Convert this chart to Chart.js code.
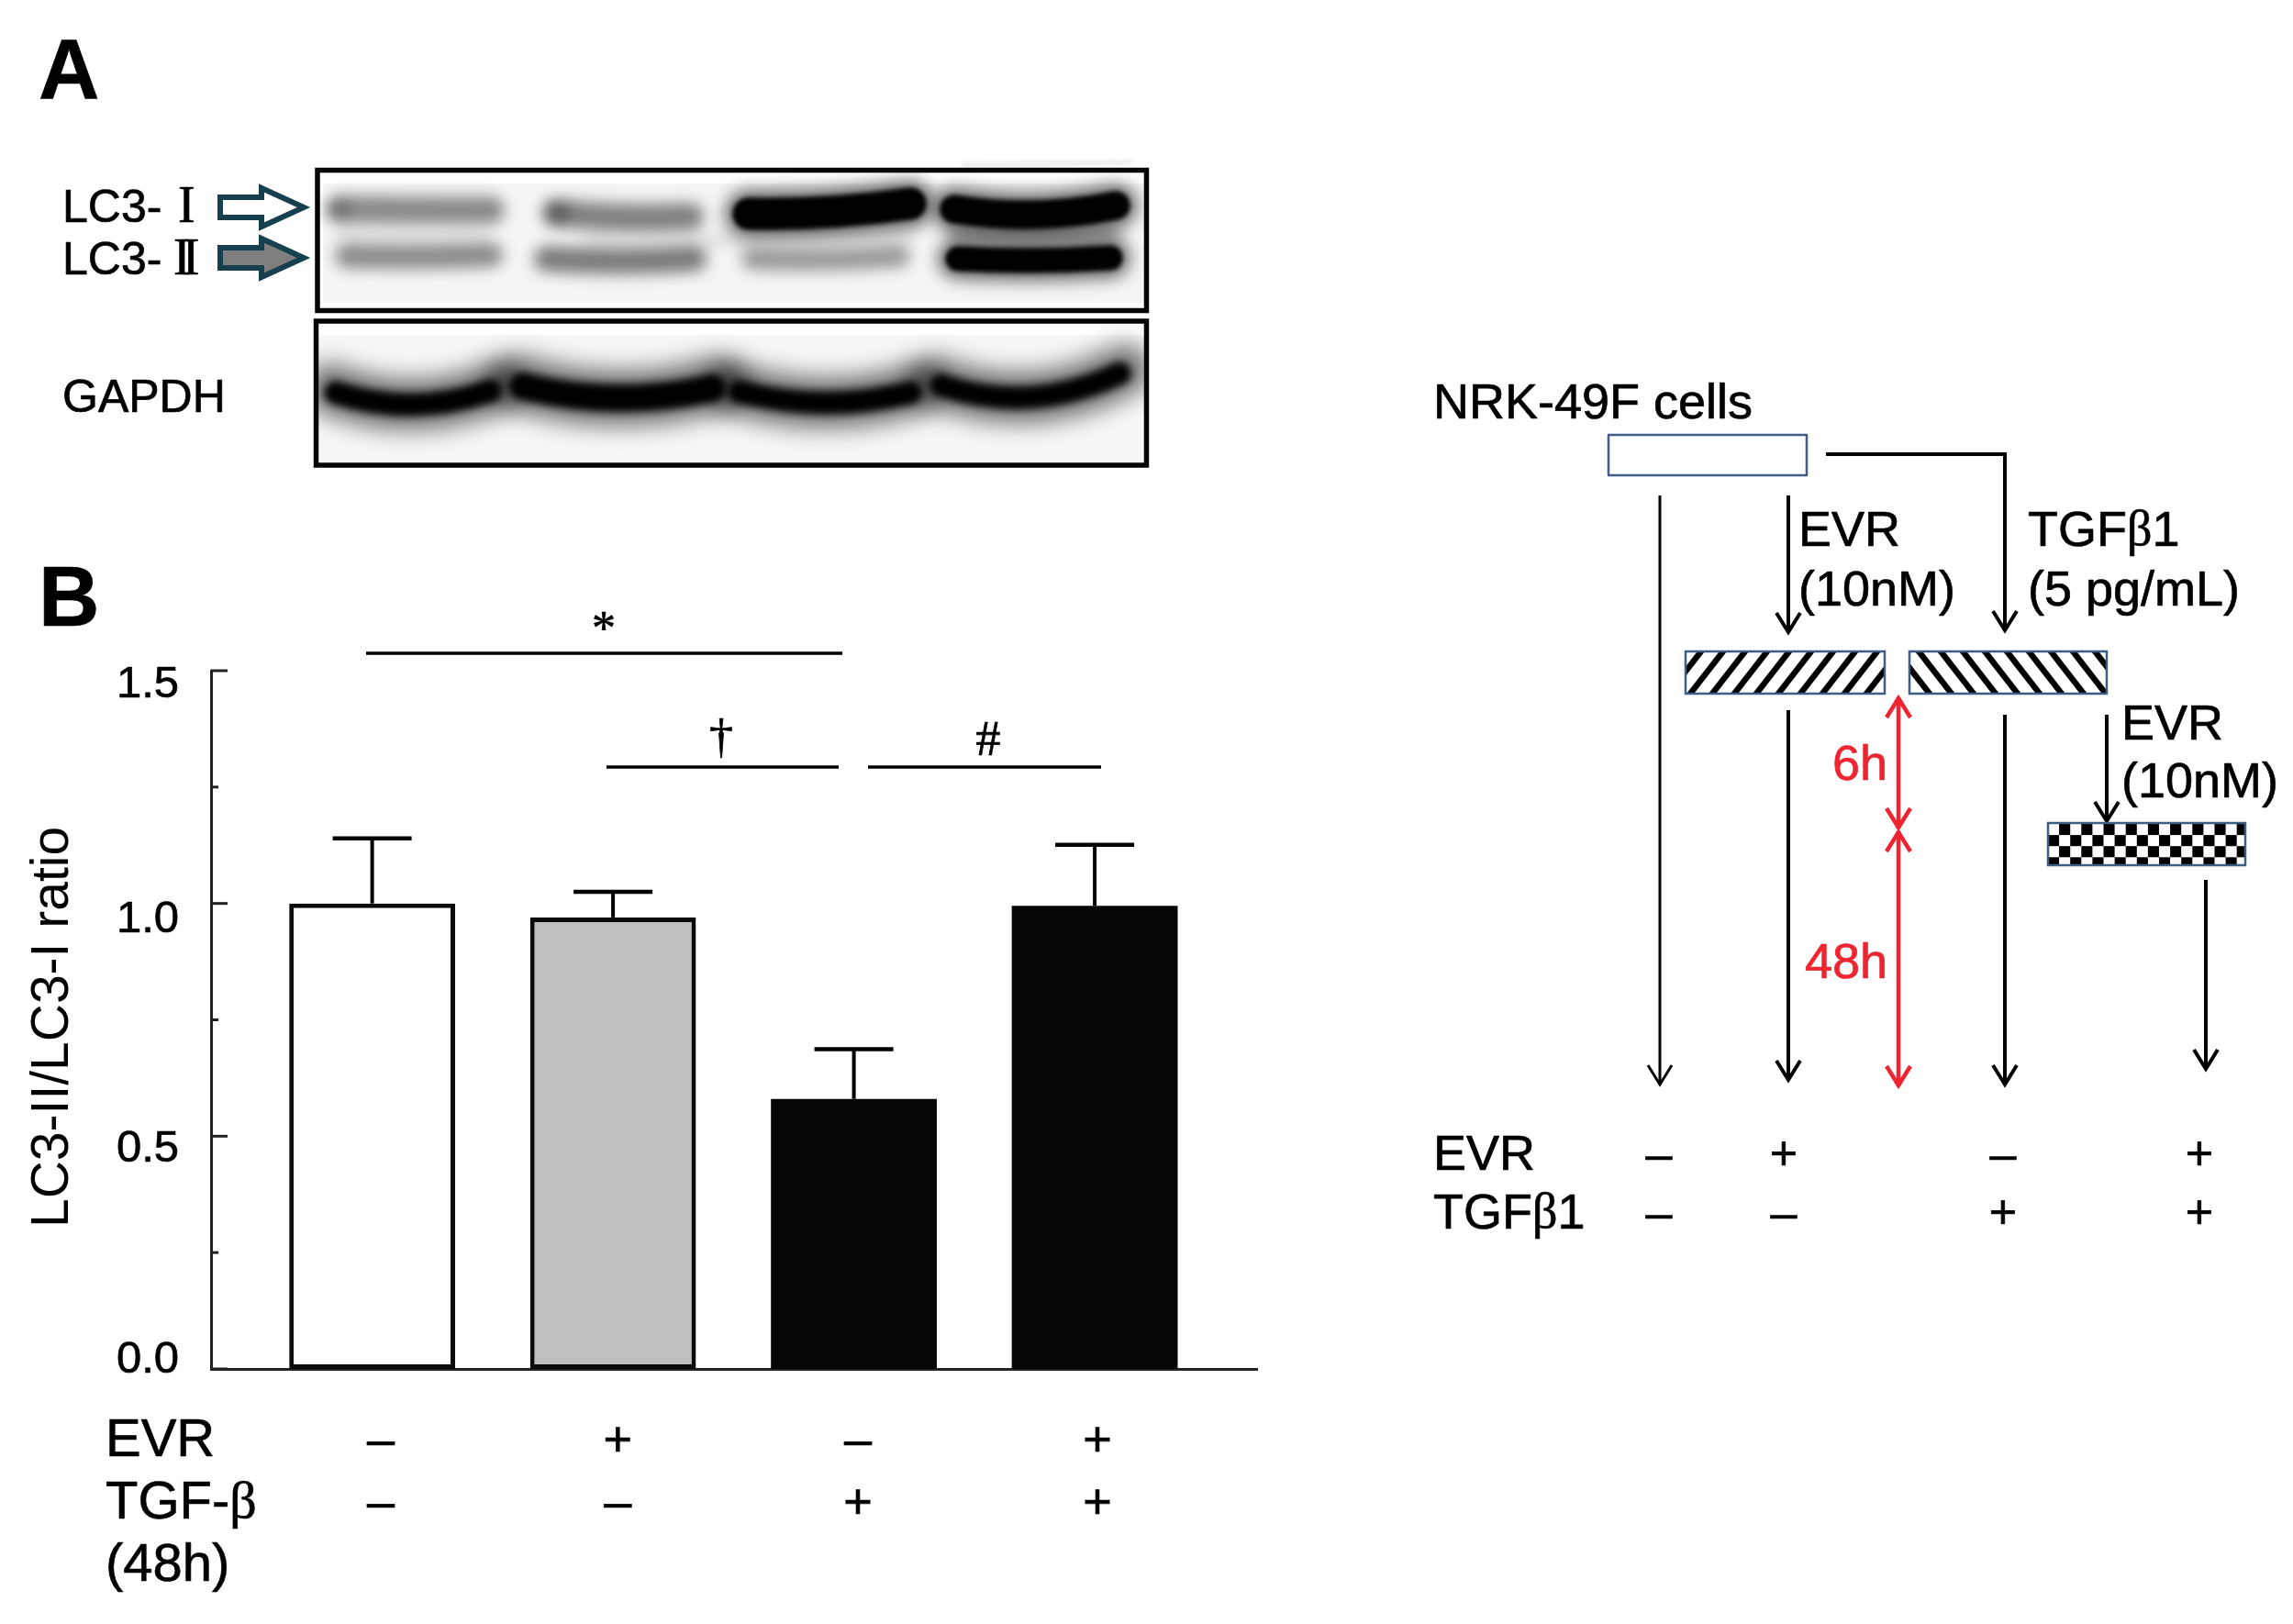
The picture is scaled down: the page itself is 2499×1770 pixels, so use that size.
<!DOCTYPE html>
<html>
<head>
<meta charset="utf-8">
<title>LC3-II/LC3-I ratio</title>
<script src="https://cdn.jsdelivr.net/npm/chart.js@4"></script>
<style>
  html, body { margin: 0; padding: 0; background: #fff; }
  canvas { display: block; }
</style>
</head>
<body>
<canvas id="ratioChart" width="2499" height="1770"></canvas>
<script>
const categories = ['Control', 'EVR', 'TGF-β', 'EVR + TGF-β'];
const ratioValues = [1.0, 0.97, 0.58, 0.995];
const errorTops = [1.14, 1.025, 0.687, 1.126];
const evrRow = ['–', '+', '–', '+'];
const tgfRow = ['–', '–', '+', '+'];
const yTickLabels = ['0.0', '0.5', '1.0', '1.5'];
const rowNames = ['EVR', 'TGF-', '(48h)'];

// the labels in the figure sit a little off their ticks and bars
const yLabelSpots = [0.018, 0.473, 0.965, 1.47];
const symbolColumns = [1.036, 2.02, 3.017, 4.011];

const sans = '"Liberation Sans", Arial, sans-serif';
const serif = '"Liberation Serif", serif';

function text(ctx, str, x, y, size, opts = {}) {
    ctx.font = `${opts.weight || 'normal'} ${size}px ${opts.family || sans}`;
    ctx.fillStyle = opts.color || '#000';
    ctx.textAlign = opts.align || 'left';
    ctx.textBaseline = 'middle';
    ctx.fillText(str, x, y + 6);
    // the source is a soft scan, letters look a bit heavier than a clean fill
    ctx.strokeStyle = ctx.fillStyle;
    ctx.lineWidth = 0.7;
    ctx.lineJoin = 'round';
    ctx.strokeText(str, x, y + 6);
}

function line(ctx, pts, width = 4, color = '#000') {
    ctx.strokeStyle = color;
    ctx.lineWidth = width;
    ctx.lineCap = 'butt';
    ctx.lineJoin = 'miter';
    ctx.beginPath();
    pts.forEach((p, i) => i ? ctx.lineTo(p[0], p[1]) : ctx.moveTo(p[0], p[1]));
    ctx.stroke();
}

// arrow pointing down with an open head
function downArrow(ctx, x, y0, y1, width = 4, color = '#000') {
    line(ctx, [[x, y0], [x, y1]], width, color);
    line(ctx, [[x - 13, y1 - 21], [x, y1], [x + 13, y1 - 21]], width, color);
}

function doubleArrow(ctx, x, y0, y1) {
    const red = '#ee2530';
    line(ctx, [[x, y0], [x, y1]], 4.5, red);
    line(ctx, [[x - 13, y0 + 22], [x, y0 + 1], [x + 13, y0 + 22]], 4.5, red);
    line(ctx, [[x - 13, y1 - 22], [x, y1 - 1], [x + 13, y1 - 22]], 4.5, red);
}

function sideArrow(ctx, y, fill) {
    ctx.beginPath();
    ctx.moveTo(240, y - 11);
    ctx.lineTo(285, y - 11);
    ctx.lineTo(285, y - 21);
    ctx.lineTo(331, y);
    ctx.lineTo(285, y + 21);
    ctx.lineTo(285, y + 11);
    ctx.lineTo(240, y + 11);
    ctx.closePath();
    ctx.fillStyle = fill;
    ctx.fill();
    ctx.strokeStyle = '#17404f';
    ctx.lineWidth = 6;
    ctx.lineJoin = 'miter';
    ctx.stroke();
}

// one smeared blot band: x0, x1, left y, middle y, right y, thickness, darkness
function band(ctx, b, blur) {
    ctx.save();
    ctx.filter = `blur(${blur}px)`;
    ctx.strokeStyle = `rgba(0,0,0,${b[6]})`;
    ctx.lineWidth = b[5];
    ctx.lineCap = 'round';
    ctx.beginPath();
    ctx.moveTo(b[0], b[2]);
    ctx.quadraticCurveTo((b[0] + b[1]) / 2, 2 * b[3] - (b[2] + b[4]) / 2, b[1], b[4]);
    ctx.stroke();
    ctx.restore();
}

function blackBand(ctx, b, haloBlur = 9) {
    band(ctx, [b[0], b[1], b[2], b[3], b[4], b[5] + 16, 0.6], haloBlur);
    band(ctx, b, 2.5);
}

function drawBlots(ctx) {
    band(ctx, [1050, 1232, 179, 178, 177, 5, 0.08], 2);

    ctx.save();
    ctx.beginPath();
    ctx.rect(346, 188, 903, 148);
    ctx.fillStyle = '#ffffff';
    ctx.fill();
    ctx.clip();
    ctx.fillStyle = '#f5f5f5';
    ctx.fillRect(352, 200, 897, 130);
    const faintBands = [
        [372, 535, 228, 229, 229, 30, 0.44],
        [606, 752, 232, 237, 236, 30, 0.48],
        [378, 535, 279, 280, 278, 26, 0.44],
        [596, 756, 282, 285, 282, 28, 0.5],
        [820, 980, 282, 283, 279, 24, 0.38],
        [370, 530, 256, 257, 256, 12, 0.1],
        [640, 990, 262, 262, 256, 12, 0.1],
        [1040, 1215, 254, 254, 254, 14, 0.3],
    ];
    faintBands.forEach(b => band(ctx, b, 8));
    // darker spots on the left of the first lanes
    band(ctx, [366, 370, 228, 228, 228, 22, 0.2], 7);
    band(ctx, [606, 610, 232, 232, 232, 24, 0.25], 7);

    blackBand(ctx, [816, 992, 233, 231, 222, 35, 1]);
    blackBand(ctx, [1040, 1216, 228, 234, 224, 31, 1]);
    blackBand(ctx, [1044, 1210, 282, 284, 281, 27, 1]);
    ctx.restore();

    ctx.save();
    ctx.beginPath();
    ctx.rect(345, 352, 904, 154);
    ctx.fillStyle = '#ffffff';
    ctx.fill();
    ctx.clip();
    ctx.fillStyle = '#f7f7f7';
    ctx.fillRect(345, 365, 904, 141);
    const gapdhBands = [
        [366, 534, 428, 441, 426, 25, 1],
        [570, 776, 421, 434, 423, 30, 1],
        [806, 992, 427, 439, 428, 25, 1],
        [1026, 1220, 420, 433, 407, 25, 1],
    ];
    gapdhBands.forEach(b => {
        band(ctx, [b[0] - 6, b[1] + 6, b[2] - 4, b[3], b[4] - 4, b[5] + 30, 0.55], 13);
        band(ctx, b, 4);
    });
    ctx.restore();

    ctx.strokeStyle = '#050505';
    ctx.lineWidth = 5.5;
    ctx.strokeRect(346, 185.5, 903.5, 153);
    ctx.strokeRect(344.5, 350, 905, 157);
}

function drawPanelLabels(ctx) {
    text(ctx, 'A', 42, 76, 92, { weight: 'bold' });
    text(ctx, 'B', 42, 651, 92, { weight: 'bold' });
    text(ctx, 'LC3-', 68, 222, 50);
    text(ctx, 'I', 194, 221, 56, { family: serif });
    text(ctx, 'LC3-', 68, 279, 50);
    ctx.letterSpacing = '-9px';
    text(ctx, 'II', 189, 278, 56, { family: serif });
    ctx.letterSpacing = '0px';
    text(ctx, 'GAPDH', 68, 429, 50);
    sideArrow(ctx, 226, '#ffffff');
    sideArrow(ctx, 281, '#7f7f7f');
}

function drawBracketNotes(ctx) {
    line(ctx, [[399, 712], [918, 712]], 3.5);
    line(ctx, [[661, 836], [914, 836]], 3.5);
    line(ctx, [[946, 836], [1200, 836]], 3.5);
    text(ctx, '*', 658, 682, 52, { family: serif, align: 'center' });
    text(ctx, '†', 786, 800, 52, { family: serif, align: 'center' });
    text(ctx, '#', 1077, 803, 54, { family: serif, align: 'center' });
}

function drawRowNames(ctx) {
    text(ctx, rowNames[0], 115, 1565, 58);
    text(ctx, rowNames[1], 115, 1633, 58);
    const w = ctx.measureText(rowNames[1]).width;
    text(ctx, 'β', 115 + w, 1633, 58, { family: serif });
    text(ctx, rowNames[2], 115, 1701, 58);
}

function hatchBox(ctx, x, y, w, h, paint) {
    ctx.save();
    ctx.beginPath();
    ctx.rect(x, y, w, h);
    ctx.fillStyle = '#fff';
    ctx.fill();
    ctx.clip();
    paint();
    ctx.restore();
    ctx.strokeStyle = '#3d5d82';
    ctx.lineWidth = 2.5;
    ctx.strokeRect(x, y, w, h);
}

function drawProtocol(ctx) {
    text(ctx, 'NRK-49F cells', 1562, 435, 54);
    hatchBox(ctx, 1753, 474, 216, 44, () => {});
    line(ctx, [[1990, 495], [2185, 495], [2185, 687]], 4);
    line(ctx, [[2172, 666], [2185, 687], [2198, 666]], 4);

    downArrow(ctx, 1809, 540, 1182, 3);
    downArrow(ctx, 1949, 540, 689);
    downArrow(ctx, 1949, 774, 1177);
    downArrow(ctx, 2185, 779, 1182);
    downArrow(ctx, 2296, 779, 895);
    downArrow(ctx, 2404, 959, 1165);

    hatchBox(ctx, 1837, 710, 217, 46, () => {
        for (let x = 1815; x < 2070; x += 24) {
            line(ctx, [[x, 760], [x + 42, 706]], 6.5);
        }
    });
    hatchBox(ctx, 2081, 710, 215, 46, () => {
        for (let x = 2040; x < 2310; x += 24) {
            line(ctx, [[x, 706], [x + 42, 760]], 6.5);
        }
    });
    hatchBox(ctx, 2232, 897, 215, 46, () => {
        ctx.fillStyle = '#000';
        const cell = 12.1;
        for (let r = 0; r < 4; r++) {
            for (let c = 0; c < 18; c++) {
                if ((r + c) % 2 === 1) ctx.fillRect(2232 + c * cell, 898 + r * cell, cell, cell);
            }
        }
    });

    doubleArrow(ctx, 2069, 760, 903);
    doubleArrow(ctx, 2069, 906, 1184);
    text(ctx, '6h', 2057, 829, 54, { color: '#ee2530', align: 'right' });
    text(ctx, '48h', 2057, 1045, 54, { color: '#ee2530', align: 'right' });

    text(ctx, 'EVR', 1960, 574, 54);
    text(ctx, '(10nM)', 1960, 639, 54);
    text(ctx, 'TGF', 2210, 574, 54);
    let w = ctx.measureText('TGF').width;
    text(ctx, 'β', 2210 + w, 574, 54, { family: serif });
    w += ctx.measureText('β').width;
    text(ctx, '1', 2210 + w, 574, 54);
    text(ctx, '(5 pg/mL)', 2210, 639, 54);
    text(ctx, 'EVR', 2312, 785, 54);
    text(ctx, '(10nM)', 2312, 848, 54);

    text(ctx, 'EVR', 1562, 1254, 54);
    text(ctx, 'TGF', 1562, 1318, 54);
    w = ctx.measureText('TGF').width;
    text(ctx, 'β', 1562 + w, 1318, 54, { family: serif });
    w += ctx.measureText('β').width;
    text(ctx, '1', 1562 + w, 1318, 54);

    const cols = [1808, 1944, 2183, 2397];
    cols.forEach((x, i) => {
        text(ctx, evrRow[i], x, 1255, 52, { align: 'center' });
        text(ctx, tgfRow[i], x, 1319, 52, { align: 'center' });
    });
}

const figureExtras = {
    id: 'figureExtras',
    afterDatasetsDraw(chart) {
        const { ctx, scales } = chart;
        // error bars
        ratioValues.forEach((v, i) => {
            const x = scales.x.getPixelForValue(i + 1);
            const yBar = scales.y.getPixelForValue(v);
            const yTop = scales.y.getPixelForValue(errorTops[i]);
            line(ctx, [[x, yBar], [x, yTop]], 4);
            line(ctx, [[x - 43, yTop], [x + 43, yTop]], 4.5);
        });
        // tick marks point inwards, long ones at the labelled values
        scales.y.ticks.forEach(t => {
            const y = scales.y.getPixelForValue(t.value);
            const len = Math.abs(t.value * 2 - Math.round(t.value * 2)) < 0.01 ? 18 : 8;
            line(ctx, [[scales.y.right, y], [scales.y.right + len, y]], 3, '#222');
        });
    },
    afterDraw(chart) {
        const { ctx } = chart;
        ctx.save();
        drawBlots(ctx);
        drawPanelLabels(ctx);
        drawBracketNotes(ctx);
        drawRowNames(ctx);
        drawProtocol(ctx);
        ctx.restore();
    }
};

new Chart(document.getElementById('ratioChart'), {
    type: 'bar',
    data: {
        labels: categories,
        datasets: [{
            data: ratioValues.map((v, i) => ({ x: i + 1, y: v })),
            backgroundColor: ['#ffffff', '#bfbfbf', '#050608', '#050608'],
            borderColor: '#0a0a0a',
            borderWidth: [5, 5, 0, 0],
            borderSkipped: false,
            categoryPercentage: 0.7,
            barPercentage: 1
        }]
    },
    options: {
        responsive: false,
        animation: false,
        layout: { padding: { top: 731, right: 1129, left: 0, bottom: 0 } },
        plugins: { legend: { display: false }, title: { display: false }, tooltip: { enabled: false } },
        scales: {
            x: {
                type: 'linear',
                bounds: 'data',
                offset: false,
                min: 0.331,
                max: 4.674,
                grid: { display: false, offset: false, drawTicks: false },
                border: { display: true, color: '#222', width: 3 },
                afterBuildTicks: s => { s.ticks = symbolColumns.map(value => ({ value })); },
                afterFit: s => { s.height = 278; },
                ticks: {
                    autoSkip: false,
                    maxRotation: 0,
                    padding: 46,
                    color: '#000',
                    textStrokeColor: '#000',
                    textStrokeWidth: 0.7,
                    font: { family: sans, size: 54, lineHeight: 68 / 54 },
                    callback: (v, i) => [evrRow[i], tgfRow[i]]
                }
            },
            y: {
                min: 0,
                max: 1.5,
                weight: 0,
                grid: { display: false, drawTicks: false },
                border: { display: true, color: '#222', width: 3 },
                afterFit: s => { s.width = 0; },
                ticks: { stepSize: 0.25, display: false }
            },
            yLabels: {
                type: 'linear',
                position: 'left',
                weight: 1,
                min: 0,
                max: 1.5,
                bounds: 'data',
                grid: { display: false, drawTicks: false },
                border: { display: false },
                afterBuildTicks: s => { s.ticks = yLabelSpots.map(value => ({ value })); },
                afterFit: s => { s.width = 230; },
                ticks: {
                    autoSkip: false,
                    padding: 35,
                    color: '#000',
                    textStrokeColor: '#000',
                    textStrokeWidth: 0.7,
                    font: { family: sans, size: 49 },
                    callback: (v, i) => yTickLabels[i]
                },
                title: {
                    display: true,
                    text: 'LC3-II/LC3-I ratio ',
                    color: '#000',
                    font: { family: sans, size: 57 },
                    padding: { top: 24, bottom: 0 }
                }
            }
        }
    },
    plugins: [figureExtras]
});
</script>
</body>
</html>
